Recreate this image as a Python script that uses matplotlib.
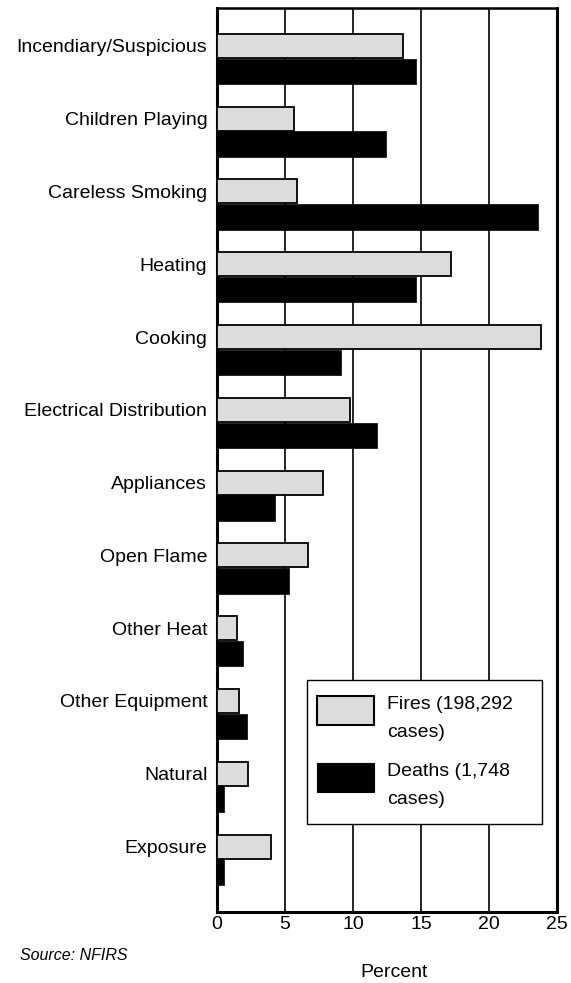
import matplotlib
matplotlib.use("Agg")
import matplotlib.pyplot as plt
from matplotlib.patches import Rectangle
from matplotlib.offsetbox import (AnchoredOffsetbox, DrawingArea, HPacker,
                                  TextArea, VPacker)
import numpy as np

categories = [
    "Incendiary/Suspicious",
    "Children Playing",
    "Careless Smoking",
    "Heating",
    "Cooking",
    "Electrical Distribution",
    "Appliances",
    "Open Flame",
    "Other Heat",
    "Other Equipment",
    "Natural",
    "Exposure",
]
fires = [13.7, 5.7, 5.9, 17.2, 23.8, 9.8, 7.8, 6.7, 1.5, 1.6, 2.3, 4.0]
deaths = [14.6, 12.4, 23.6, 14.6, 9.1, 11.8, 4.3, 5.3, 1.9, 2.2, 0.5, 0.5]
x_ticks = [0, 5, 10, 15, 20, 25]
legend_labels = ["Fires (198,292\ncases)", "Deaths (1,748\ncases)"]
FIRE_COLOR = "#dcdcdc"
DEATH_COLOR = "black"

plt.rcParams["font.family"] = ["Liberation Sans", "DejaVu Sans"]

fig = plt.figure(figsize=(5.71, 9.83), dpi=100)
ax = fig.add_axes([0.380, 0.0722, 0.5954, 0.9196])

y = np.arange(len(categories))
h = 0.33
ax.barh(y, fires, height=h, color=FIRE_COLOR, edgecolor="black", linewidth=1.3,
        zorder=3)
ax.barh(y + 0.35, deaths, height=h + 0.02, color=DEATH_COLOR, edgecolor="black",
        linewidth=0.5, zorder=3)

ax.set_xlim(0, 25)
ax.set_ylim(11.9, -0.52)
ax.set_xticks(x_ticks)
ax.set_xticklabels([str(t) for t in x_ticks], fontsize=14)
ax.set_yticks(y)
ax.set_yticklabels(categories, fontsize=14)
ax.tick_params(axis="y", length=0, pad=7)
ax.tick_params(axis="x", length=0, pad=3)
ax.grid(axis="x", color="black", linewidth=1.2, zorder=1)
ax.set_axisbelow(True)
for side in ["left", "bottom", "right"]:
    ax.spines[side].set_linewidth(2.2)
ax.spines["top"].set_linewidth(1.8)

ax.set_xlabel("Percent", fontsize=14, labelpad=22, x=0.52)


# legend box built from offsetboxes so the swatch sits level with the first line
def legend_entry(label, face, edge_lw):
    swatch = DrawingArea(41, 21)
    swatch.add_artist(Rectangle((0, 0), 41, 21, facecolor=face,
                                edgecolor="black", linewidth=edge_lw))
    text = TextArea(label, textprops=dict(fontsize=14, linespacing=1.85))
    return HPacker(children=[swatch, text], align="top", pad=0, sep=9.5)


entries = VPacker(
    children=[
        legend_entry(legend_labels[0], FIRE_COLOR, 1.5),
        legend_entry(legend_labels[1], DEATH_COLOR, 0.8),
    ],
    align="left", pad=0, sep=16,
)
column = VPacker(children=[DrawingArea(1, 4.5), entries, DrawingArea(1, 4.5)],
                 align="left", pad=0, sep=0)
content = HPacker(children=[column, DrawingArea(14, 1)], align="top", pad=0, sep=0)
box = AnchoredOffsetbox(
    loc="upper left", child=content, pad=0.5, borderpad=0, frameon=True,
    bbox_to_anchor=(0.2647, 0.257), bbox_transform=ax.transAxes,
    prop=dict(size=14),
)
box.patch.set_edgecolor("black")
box.patch.set_linewidth(1.0)
box.set_zorder(5)
ax.add_artist(box)

fig.text(20 / 571, 1 - 955 / 983, "Source: NFIRS", fontsize=11.5, style="italic",
         va="center", ha="left")

fig.savefig("out.png", dpi=100)
